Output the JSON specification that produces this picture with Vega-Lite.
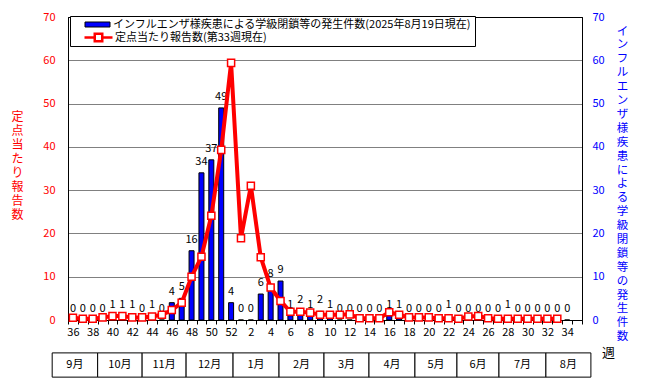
{
  "$schema": "https://vega.github.io/schema/vega-lite/v6.json",
  "width": 514,
  "height": 303,
  "autosize": {"type": "none"},
  "padding": {"left": 68, "top": 17, "right": 65, "bottom": 62},
  "background": "white",
  "config": {
    "font": "Noto Sans CJK JP",
    "view": {"stroke": "black", "strokeWidth": 1},
    "text": {"font": "Noto Sans CJK JP"}
  },
  "datasets": {
    "closures": [
      {"w": 36, "n": 0}, {"w": 37, "n": 0}, {"w": 38, "n": 0}, {"w": 39, "n": 0},
      {"w": 40, "n": 1}, {"w": 41, "n": 1}, {"w": 42, "n": 1}, {"w": 43, "n": 0},
      {"w": 44, "n": 1}, {"w": 45, "n": 0}, {"w": 46, "n": 4}, {"w": 47, "n": 5},
      {"w": 48, "n": 16}, {"w": 49, "n": 34}, {"w": 50, "n": 37}, {"w": 51, "n": 49},
      {"w": 52, "n": 4}, {"w": 1, "n": 0}, {"w": 2, "n": 0}, {"w": 3, "n": 6},
      {"w": 4, "n": 8}, {"w": 5, "n": 9}, {"w": 6, "n": 1}, {"w": 7, "n": 2},
      {"w": 8, "n": 1}, {"w": 9, "n": 2}, {"w": 10, "n": 1}, {"w": 11, "n": 0},
      {"w": 12, "n": 0}, {"w": 13, "n": 0}, {"w": 14, "n": 0}, {"w": 15, "n": 0},
      {"w": 16, "n": 1}, {"w": 17, "n": 1}, {"w": 18, "n": 0}, {"w": 19, "n": 0},
      {"w": 20, "n": 0}, {"w": 21, "n": 0}, {"w": 22, "n": 1}, {"w": 23, "n": 0},
      {"w": 24, "n": 0}, {"w": 25, "n": 0}, {"w": 26, "n": 0}, {"w": 27, "n": 0},
      {"w": 28, "n": 1}, {"w": 29, "n": 0}, {"w": 30, "n": 0}, {"w": 31, "n": 0},
      {"w": 32, "n": 0}, {"w": 33, "n": 0}, {"w": 34, "n": 0}
    ],
    "sentinel": [
      {"w": 36, "r": 0.5}, {"w": 37, "r": 0.3}, {"w": 38, "r": 0.3}, {"w": 39, "r": 0.6},
      {"w": 40, "r": 0.9}, {"w": 41, "r": 0.9}, {"w": 42, "r": 0.6}, {"w": 43, "r": 0.6},
      {"w": 44, "r": 0.8}, {"w": 45, "r": 1.2}, {"w": 46, "r": 2.3}, {"w": 47, "r": 4.0},
      {"w": 48, "r": 10.0}, {"w": 49, "r": 14.6}, {"w": 50, "r": 24.1}, {"w": 51, "r": 39.3},
      {"w": 52, "r": 59.4}, {"w": 1, "r": 18.9}, {"w": 2, "r": 31.0}, {"w": 3, "r": 14.5},
      {"w": 4, "r": 7.5}, {"w": 5, "r": 4.4}, {"w": 6, "r": 1.9}, {"w": 7, "r": 1.9},
      {"w": 8, "r": 1.7}, {"w": 9, "r": 1.2}, {"w": 10, "r": 1.2}, {"w": 11, "r": 1.2},
      {"w": 12, "r": 1.3}, {"w": 13, "r": 0.4}, {"w": 14, "r": 0.4}, {"w": 15, "r": 0.4},
      {"w": 16, "r": 1.8}, {"w": 17, "r": 1.2}, {"w": 18, "r": 0.6}, {"w": 19, "r": 0.6},
      {"w": 20, "r": 0.6}, {"w": 21, "r": 0.4}, {"w": 22, "r": 0.4}, {"w": 23, "r": 0.3},
      {"w": 24, "r": 0.8}, {"w": 25, "r": 0.9}, {"w": 26, "r": 0.4}, {"w": 27, "r": 0.3},
      {"w": 28, "r": 0.3}, {"w": 29, "r": 0.3}, {"w": 30, "r": 0.3}, {"w": 31, "r": 0.3},
      {"w": 32, "r": 0.3}, {"w": 33, "r": 0.3}
    ],
    "months": [
      {"m": "9月", "a": -2.1, "b": 2.5},
      {"m": "10月", "a": 2.5, "b": 7.0},
      {"m": "11月", "a": 7.0, "b": 11.45},
      {"m": "12月", "a": 11.45, "b": 16.2},
      {"m": "1月", "a": 16.2, "b": 20.85},
      {"m": "2月", "a": 20.85, "b": 25.4},
      {"m": "3月", "a": 25.4, "b": 29.95},
      {"m": "4月", "a": 29.95, "b": 34.6},
      {"m": "5月", "a": 34.6, "b": 38.85},
      {"m": "6月", "a": 38.85, "b": 43.1},
      {"m": "7月", "a": 43.1, "b": 47.85},
      {"m": "8月", "a": 47.85, "b": 52.4}
    ]
  },
  "layer": [
    {
      "data": {"name": "months"},
      "transform": [{"calculate": "(datum.a + datum.b) / 2", "as": "c"}],
      "layer": [
        {
          "mark": {"type": "rect", "fill": "white", "stroke": "black", "strokeWidth": 1},
          "encoding": {
            "x": {"field": "a", "type": "quantitative", "scale": {"domain": [-0.5, 51.5], "nice": false, "zero": false}, "axis": null},
            "x2": {"field": "b"},
            "y": {"datum": -7.6, "type": "quantitative", "scale": {"domain": [0, 70], "nice": false, "zero": false}, "axis": null},
            "y2": {"datum": -13.2}
          }
        },
        {
          "mark": {"type": "text", "fontSize": 11, "color": "black", "baseline": "middle", "align": "center"},
          "encoding": {
            "x": {"field": "c", "type": "quantitative"},
            "y": {"datum": -10.4, "type": "quantitative"},
            "text": {"field": "m"}
          }
        }
      ]
    },
    {
      "data": {"name": "closures"},
      "encoding": {
        "y": {
          "field": "n", "type": "quantitative",
          "scale": {"domain": [0, 70], "nice": false},
          "axis": {
            "orient": "right",
            "values": [0, 10, 20, 30, 40, 50, 60, 70],
            "grid": false,
            "ticks": false,
            "domainColor": "black",
            "labelColor": "#0000ff",
            "labelFontSize": 11,
            "labelPadding": 10,
            "title": ["イ","ン","フ","ル","エ","ン","ザ","様","疾","患","に","よ","る","学","級","閉","鎖","等","の","発","生","件","数"],
            "titleColor": "#0000ff",
            "titleFontSize": 11.5,
            "titleFontWeight": "normal",
            "titleAngle": 0,
            "titleAlign": "center",
            "titleBaseline": "top",
            "titleLineHeight": 13.9,
            "titleX": 40,
            "titleY": 8
          }
        }
      },
      "layer": [
        {
          "mark": {"type": "bar", "width": 5, "stroke": "black", "strokeWidth": 1},
          "encoding": {
            "x": {
              "field": "w", "type": "ordinal",
              "scale": {"type": "band", "domain": [36,37,38,39,40,41,42,43,44,45,46,47,48,49,50,51,52,1,2,3,4,5,6,7,8,9,10,11,12,13,14,15,16,17,18,19,20,21,22,23,24,25,26,27,28,29,30,31,32,33,34,35], "paddingInner": 0, "paddingOuter": 0},
              "axis": {
                "orient": "bottom",
                "labelExpr": "datum.value % 2 === 0 ? datum.label : ''",
                "tickBand": "extent",
                "ticks": true,
                "tickSize": 4,
                "tickColor": "black",
                "domainColor": "black",
                "labelAngle": 0,
                "labelFontSize": 11,
                "labelColor": "black",
                "labelPadding": 2,
                "labelOverlap": false,
                "grid": false,
                "title": "週",
                "titleFontSize": 13,
                "titleFontWeight": "normal",
                "titleColor": "black",
                "titleX": 540,
                "titleY": 32,
                "titleAlign": "center",
                "titleBaseline": "middle"
              }
            },
            "color": {
              "datum": "インフルエンザ様疾患による学級閉鎖等の発生件数(2025年8月19日現在)",
              "scale": {
                "domain": ["インフルエンザ様疾患による学級閉鎖等の発生件数(2025年8月19日現在)"],
                "range": ["#0000ff"]
              },
              "legend": {
                "orient": "none",
                "legendX": 2,
                "legendY": -1,
                "title": " ",
                "titleOrient": "bottom",
                "titleFontSize": 11,
                "titlePadding": 2,
                "padding": 3,
                "strokeColor": "black",
                "fillColor": "white",
                "labelFontSize": 11,
                "labelColor": "black",
                "labelLimit": 600,
                "symbolType": "M-2.5,-0.5H2.5V0.5H-2.5Z",
                "symbolStrokeColor": "black",
                "symbolStrokeWidth": 1,
                "symbolSize": 100,
                "symbolOffset": 19,
                "labelOffset": 10,
                "rowPadding": 0
              }
            }
          }
        },
        {
          "mark": {"type": "text", "dy": -11, "fontSize": 11, "color": "black", "baseline": "middle"},
          "encoding": {
            "x": {"field": "w", "type": "ordinal", "bandPosition": 0.5},
            "text": {"field": "n", "type": "quantitative"}
          }
        }
      ]
    },
    {
      "data": {"name": "sentinel"},
      "encoding": {
        "x": {
          "field": "w", "type": "ordinal", "bandPosition": 0.5,
          "scale": {"type": "band", "domain": [36,37,38,39,40,41,42,43,44,45,46,47,48,49,50,51,52,1,2,3,4,5,6,7,8,9,10,11,12,13,14,15,16,17,18,19,20,21,22,23,24,25,26,27,28,29,30,31,32,33,34,35], "paddingInner": 0, "paddingOuter": 0},
          "axis": null
        },
        "y": {
          "field": "r", "type": "quantitative",
          "scale": {"domain": [0, 70], "nice": false},
          "axis": {
            "orient": "left",
            "values": [0, 10, 20, 30, 40, 50, 60, 70],
            "grid": true,
            "gridColor": {"condition": {"test": "datum.value === 0 || datum.value === 70", "value": "black"}, "value": "#808080"},
            "ticks": false,
            "domainColor": "black",
            "labelColor": "#ff0000",
            "labelFontSize": 11,
            "labelPadding": 13,
            "title": ["定","点","当","た","り","報","告","数"],
            "titleColor": "#ff0000",
            "titleFontSize": 12,
            "titleFontWeight": "normal",
            "titleAngle": 0,
            "titleAlign": "center",
            "titleBaseline": "top",
            "titleLineHeight": 14,
            "titleX": -51,
            "titleY": 94
          }
        }
      },
      "layer": [
        {
          "mark": {"type": "line", "strokeWidth": 4},
          "encoding": {
            "stroke": {
              "datum": "定点当たり報告数(第33週現在)",
              "scale": {"domain": ["定点当たり報告数(第33週現在)"], "range": ["#ff0000"]},
              "legend": {
                "orient": "none",
                "legendX": 2,
                "legendY": 11,
                "title": null,
                "padding": 3,
                "labelFontSize": 11,
                "labelColor": "black",
                "labelLimit": 600,
                "symbolType": "M-2.8,0H-0.75M0.75,0H2.8M-0.75,-0.75H0.75V0.75H-0.75Z",
                "symbolFillColor": "white",
                "symbolStrokeWidth": 2.5,
                "symbolSize": 100,
                "symbolOffset": 19,
                "labelOffset": 10,
                "rowPadding": 0
              }
            }
          }
        },
        {
          "mark": {"type": "point", "shape": "square", "filled": true, "fill": "white", "stroke": "#ff0000", "strokeWidth": 1.5, "size": 50, "opacity": 1}
        }
      ]
    }
  ],
  "resolve": {"scale": {"x": "independent", "y": "independent"}}
}
